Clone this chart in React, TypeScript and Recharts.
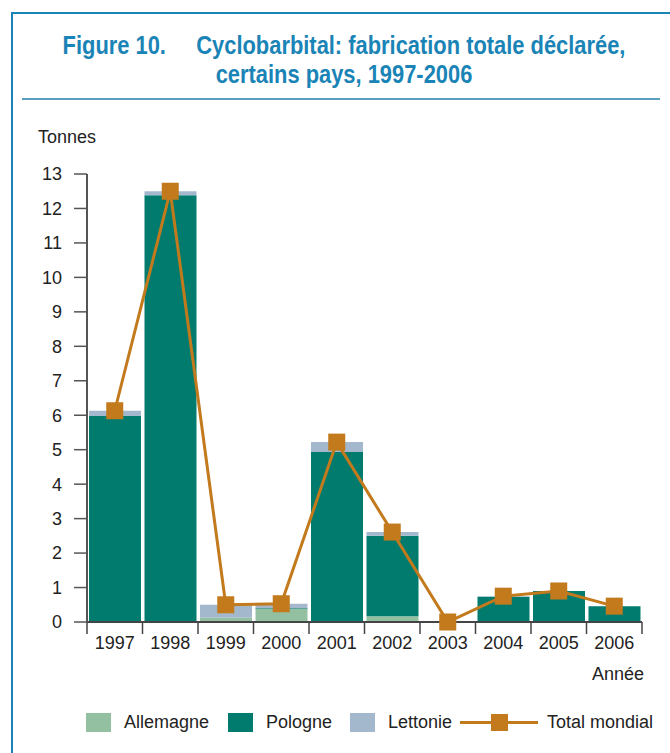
import React from "react";
import {
  Bar,
  ComposedChart,
  Line,
  XAxis,
  YAxis,
} from "recharts";

const years = ["1997", "1998", "1999", "2000", "2001", "2002", "2003", "2004", "2005", "2006"];
const allemagne = [0, 0, 0.12, 0.38, 0, 0.17, 0, 0, 0, 0];
const pologne = [5.98, 12.38, 0, 0.02, 4.93, 2.33, 0, 0.73, 0.9, 0.46];
const lettonie = [0.15, 0.12, 0.38, 0.13, 0.29, 0.11, 0, 0.02, 0, 0];
const totalMondial = [6.13, 12.5, 0.5, 0.53, 5.22, 2.61, 0, 0.75, 0.9, 0.46];
const yTicks = [0, 1, 2, 3, 4, 5, 6, 7, 8, 9, 10, 11, 12, 13];

const data = years.map((year, i) => ({
  year,
  allemagne: allemagne[i],
  pologne: pologne[i],
  lettonie: lettonie[i],
  total: totalMondial[i],
}));

const C_ALL = "#93c0a0";
const C_POL = "#007b6e";
const C_LET = "#a3b8cc";
const C_TOT = "#c27a1c";
const BLUE = "#1a84b6";
const FONT = '"Liberation Sans", Arial, sans-serif';

const HALF_BAND = (642 - 87) / years.length / 2;

const XTick = (props: any) => {
  const { x, y, payload, index } = props;
  return (
    <g>
      <line x1={x - HALF_BAND} x2={x - HALF_BAND} y1={y} y2={y + 12} stroke="#444" strokeWidth={1.5} />
      {index === years.length - 1 && (
        <line x1={x + HALF_BAND} x2={x + HALF_BAND} y1={y} y2={y + 12} stroke="#444" strokeWidth={1.5} />
      )}
      <text x={x} y={y + 21} textAnchor="middle" dominantBaseline="central" fontSize={18} fill="#222" fontFamily={FONT}>
        {payload.value}
      </text>
    </g>
  );
};

const SquareDot = (props: any) => {
  const { cx, cy } = props;
  if (cx == null || cy == null) return null;
  return <rect x={cx - 8.5} y={cy - 8.5} width={17} height={17} fill={C_TOT} />;
};

const legendItems = [
  { label: "Allemagne", color: C_ALL, left: 86 },
  { label: "Pologne", color: C_POL, left: 228 },
  { label: "Lettonie", color: C_LET, left: 350 },
];

export default function App() {
  return (
    <div style={{ position: "absolute", left: 0, top: 0, width: 670, height: 753, background: "#fff", fontFamily: FONT, overflow: "hidden" }}>
      <div style={{ position: "absolute", left: 11, top: 12, width: 2, height: 741, background: BLUE }} />
      <div style={{ position: "absolute", left: 11, top: 12, width: 659, height: 2, background: BLUE }} />
      <div
        style={{
          position: "absolute",
          left: 0,
          top: 31,
          width: 688,
          textAlign: "center",
          color: BLUE,
          fontWeight: "bold",
          fontSize: 25,
          lineHeight: "29px",
          transform: "scaleX(0.875)",
          transformOrigin: "344px 0",
          whiteSpace: "nowrap",
        }}
      >
        Figure 10.&nbsp;&nbsp;&nbsp;&nbsp; Cyclobarbital: fabrication totale déclarée,
        <br />
        certains pays, 1997-2006
      </div>
      <div style={{ position: "absolute", left: 22, top: 98, width: 638, height: 2, background: "#5b9fc2" }} />
      <div style={{ position: "absolute", left: 38, top: 127, fontSize: 18, color: "#222" }}>Tonnes</div>
      <div style={{ position: "absolute", left: 592, top: 664, fontSize: 18, color: "#222" }}>Année</div>
      <div style={{ position: "absolute", left: 0, top: 0 }}>
        <ComposedChart
          width={670}
          height={753}
          data={data}
          margin={{ top: 174, right: 28, left: 27, bottom: 101 }}
          barCategoryGap={2}
        >
          <XAxis
            dataKey="year"
            height={30}
            tickSize={0}
            tickMargin={0}
            tickLine={false}
            axisLine={{ stroke: "#444", strokeWidth: 2 }}
            tick={<XTick />}
            interval={0}
          />
          <YAxis
            width={60}
            domain={[0, 13]}
            ticks={yTicks}
            interval={0}
            tickSize={13}
            tickMargin={12}
            axisLine={{ stroke: "#555", strokeWidth: 2 }}
            tickLine={{ stroke: "#555", strokeWidth: 1.5 }}
            tick={{ fontSize: 18, fill: "#222", fontFamily: FONT }}
          />
          <Bar dataKey="allemagne" stackId="a" fill={C_ALL} isAnimationActive={false} />
          <Bar dataKey="pologne" stackId="a" fill={C_POL} isAnimationActive={false} />
          <Bar dataKey="lettonie" stackId="a" fill={C_LET} isAnimationActive={false} />
          <Line
            dataKey="total"
            stroke={C_TOT}
            strokeWidth={3}
            dot={<SquareDot />}
            activeDot={false}
            isAnimationActive={false}
          />
        </ComposedChart>
      </div>
      {legendItems.map((it) => (
        <div key={it.label} style={{ position: "absolute", left: it.left, top: 712, display: "flex", alignItems: "center", fontSize: 18, color: "#222" }}>
          <span style={{ display: "inline-block", width: 25, height: 19, background: it.color, marginRight: 13 }} />
          {it.label}
        </div>
      ))}
      <div style={{ position: "absolute", left: 460, top: 712, display: "flex", alignItems: "center", fontSize: 18, color: "#222" }}>
        <span style={{ position: "relative", display: "inline-block", width: 78, height: 19, marginRight: 9 }}>
          <span style={{ position: "absolute", left: 0, top: 8, width: 78, height: 3, background: C_TOT }} />
          <span style={{ position: "absolute", left: 31, top: 1, width: 17, height: 17, background: C_TOT }} />
        </span>
        Total mondial
      </div>
    </div>
  );
}
